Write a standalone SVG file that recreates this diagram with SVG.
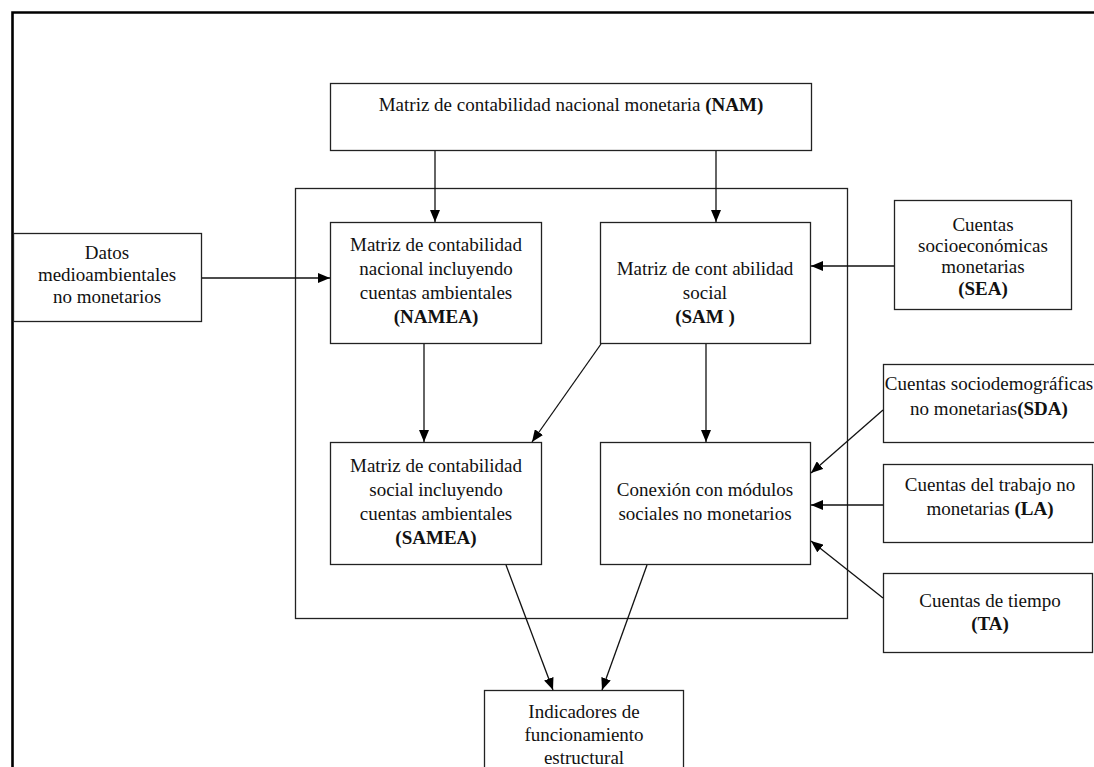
<svg xmlns="http://www.w3.org/2000/svg" width="1094" height="767" viewBox="0 0 1094 767">
<style>
.box{fill:#fff;stroke:#222;stroke-width:1.3}
.t{font-family:"Liberation Serif","Times New Roman",serif;font-size:19px;fill:#111;text-anchor:middle}
.b{font-weight:bold}
.c{fill:none;stroke:#111;stroke-width:1.3}
</style>
<defs>
<marker id="ah" viewBox="0 0 12 10" refX="12" refY="5" markerWidth="12" markerHeight="10" markerUnits="userSpaceOnUse" orient="auto">
<path d="M0,0 L12,5 L0,10 Z" fill="#000"/>
</marker>
</defs>
<rect width="1094" height="767" fill="#fff"/>
<path d="M12.5,767 V12.5 H1094" fill="none" stroke="#000" stroke-width="2.6"/>
<g id="container"><rect class="box" x="295.5" y="188.5" width="552" height="430" fill="none"/></g>
<g id="nam"><rect class="box" x="330.5" y="83.5" width="481" height="67"/>
<text class="t" x="571" y="111">Matriz de contabilidad nacional monetaria <tspan class="b">(NAM)</tspan></text></g>
<g id="namea"><rect class="box" x="330.5" y="222.5" width="211" height="121"/>
<text class="t" x="436" y="251">Matriz de contabilidad</text>
<text class="t" x="436" y="275">nacional incluyendo</text>
<text class="t" x="436" y="299">cuentas ambientales</text>
<text class="t b" x="436" y="323">(NAMEA)</text></g>
<g id="sam"><rect class="box" x="600.5" y="222.5" width="210" height="121"/>
<text class="t" x="705" y="275">Matriz de cont abilidad</text>
<text class="t" x="705" y="299">social</text>
<text class="t b" x="705" y="323">(SAM )</text></g>
<g id="samea"><rect class="box" x="330.5" y="442.5" width="211" height="122"/>
<text class="t" x="436" y="472">Matriz de contabilidad</text>
<text class="t" x="436" y="496">social incluyendo</text>
<text class="t" x="436" y="520">cuentas ambientales</text>
<text class="t b" x="436" y="544">(SAMEA)</text></g>
<g id="conexion"><rect class="box" x="600.5" y="442.5" width="210" height="122"/>
<text class="t" x="705" y="496">Conexión con módulos</text>
<text class="t" x="705" y="520">sociales no monetarios</text></g>
<g id="datos"><rect class="box" x="13.5" y="233.5" width="188" height="88"/>
<text class="t" x="107" y="259">Datos</text>
<text class="t" x="107" y="281">medioambientales</text>
<text class="t" x="107" y="303">no monetarios</text></g>
<g id="sea"><rect class="box" x="894.5" y="200.5" width="177" height="109"/>
<text class="t" x="983" y="231">Cuentas</text>
<text class="t" x="983" y="252">socioeconómicas</text>
<text class="t" x="983" y="273">monetarias</text>
<text class="t b" x="983" y="295">(SEA)</text></g>
<g id="sda"><rect class="box" x="883.5" y="364.5" width="220" height="78"/>
<text class="t" x="989" y="390">Cuentas sociodemográficas</text>
<text class="t" x="989" y="415">no monetarias<tspan class="b">(SDA)</tspan></text></g>
<g id="la"><rect class="box" x="883.5" y="464.5" width="209" height="78"/>
<text class="t" x="990" y="491">Cuentas del trabajo no</text>
<text class="t" x="990" y="515">monetarias <tspan class="b">(LA)</tspan></text></g>
<g id="ta"><rect class="box" x="883.5" y="573.5" width="209" height="79"/>
<text class="t" x="990" y="607">Cuentas de tiempo</text>
<text class="t b" x="990" y="630">(TA)</text></g>
<g id="indicadores"><rect class="box" x="484.5" y="690.5" width="199" height="100"/>
<text class="t" x="584" y="718">Indicadores de</text>
<text class="t" x="584" y="741">funcionamiento</text>
<text class="t" x="584" y="764">estructural</text></g>
<g id="connectors" class="c">
<line x1="435" y1="151" x2="435" y2="222" marker-end="url(#ah)"/>
<line x1="716" y1="151" x2="716" y2="222" marker-end="url(#ah)"/>
<line x1="202" y1="278" x2="330" y2="278" marker-end="url(#ah)"/>
<line x1="894" y1="266" x2="811" y2="266" marker-end="url(#ah)"/>
<line x1="424" y1="344" x2="424" y2="442" marker-end="url(#ah)"/>
<line x1="706" y1="344" x2="706" y2="442" marker-end="url(#ah)"/>
<line x1="601" y1="344" x2="532" y2="442" marker-end="url(#ah)"/>
<line x1="883" y1="410" x2="811" y2="473" marker-end="url(#ah)"/>
<line x1="883" y1="505" x2="811" y2="505" marker-end="url(#ah)"/>
<line x1="883" y1="598" x2="811" y2="541" marker-end="url(#ah)"/>
<line x1="506" y1="565" x2="553" y2="690" marker-end="url(#ah)"/>
<line x1="647" y1="565" x2="602" y2="690" marker-end="url(#ah)"/>
</g>
</svg>
